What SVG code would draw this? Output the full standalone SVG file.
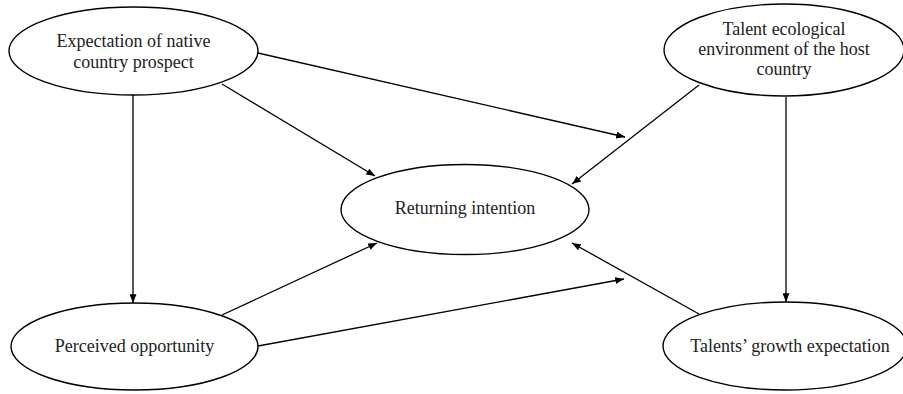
<svg xmlns="http://www.w3.org/2000/svg" width="903" height="394" viewBox="0 0 903 394">
<style>
.node ellipse{fill:#fff;stroke:#000;stroke-width:1.4}
.node text{font-family:"Liberation Serif","Times New Roman",serif;font-size:18px;fill:#222;text-anchor:middle}
.edges line{stroke:#000;stroke-width:1.3;marker-end:url(#arr)}
</style>
<defs>
<marker id="arr" viewBox="0 0 10 8" refX="10" refY="4" markerWidth="9" markerHeight="7" markerUnits="userSpaceOnUse" orient="auto">
<path d="M0,0 L10,4 L0,8 Z" fill="#000"/>
</marker>
</defs>
<rect width="903" height="394" fill="#fff"/>
<g class="edges">
<line x1="133" y1="95" x2="133" y2="303"/>
<line x1="222" y1="84" x2="375" y2="176"/>
<line x1="258" y1="53" x2="625" y2="137"/>
<line x1="699" y1="85" x2="572" y2="184"/>
<line x1="786" y1="97" x2="786" y2="302"/>
<line x1="222" y1="315" x2="377" y2="243"/>
<line x1="258" y1="346" x2="624" y2="279"/>
<line x1="699" y1="314" x2="572" y2="243"/>
</g>
<g id="expectation" class="node">
<ellipse cx="133.5" cy="51" rx="124.5" ry="44"/>
<text x="133.5" y="47">Expectation of native</text>
<text x="133.5" y="68">country prospect</text>
</g>
<g id="talent-env" class="node">
<ellipse cx="784" cy="50" rx="120" ry="46"/>
<text x="784" y="35">Talent ecological</text>
<text x="784" y="55">environment of the host</text>
<text x="784" y="75">country</text>
</g>
<g id="returning" class="node">
<ellipse cx="465" cy="209.5" rx="124" ry="45"/>
<text x="465" y="214">Returning intention</text>
</g>
<g id="perceived" class="node">
<ellipse cx="134.5" cy="346.5" rx="123.5" ry="43.5"/>
<text x="134.5" y="352">Perceived opportunity</text>
</g>
<g id="growth" class="node">
<ellipse cx="785" cy="346" rx="122" ry="44"/>
<text x="790" y="352">Talents’ growth expectation</text>
</g>
</svg>
